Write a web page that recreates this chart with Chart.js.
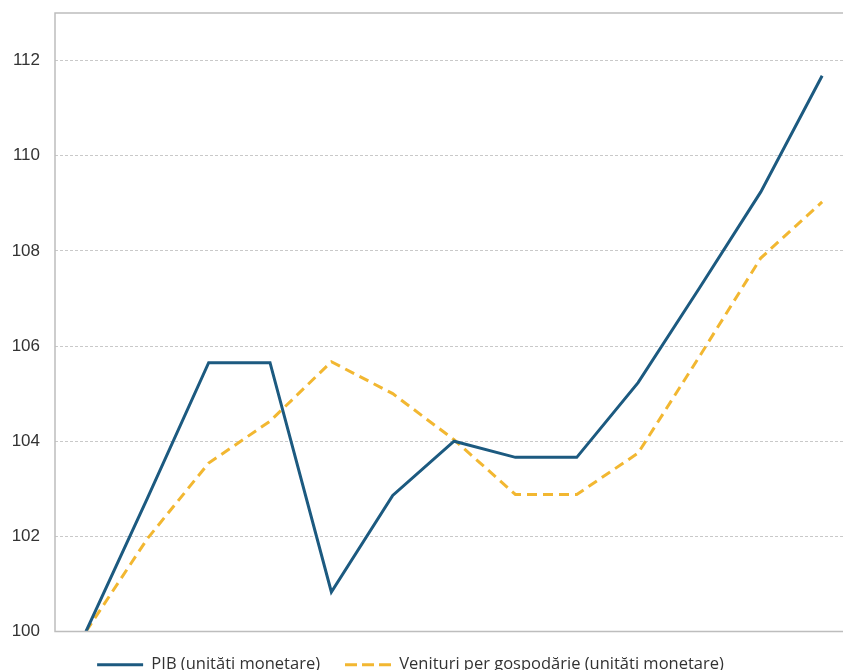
<!DOCTYPE html>
<html>
<head>
<meta charset="utf-8">
<script src="https://cdn.jsdelivr.net/npm/chart.js@4/dist/chart.umd.min.js"></script>
<style>
  html, body { margin: 0; padding: 0; background: #fff; overflow: hidden; }
  #wrap { position: relative; width: 843px; height: 670px; }
  canvas { display: block; }
</style>
</head>
<body>
<div id="wrap"><canvas id="c" width="843" height="670"></canvas></div>
<script>
// Indexed periods (0 = base period)
const periods = [0, 1, 2, 3, 4, 5, 6, 7, 8, 9, 10, 11, 12];
const pibValues = [100, 102.8, 105.65, 105.65, 100.83, 102.86, 104.0, 103.66, 103.66, 105.23, 107.22, 109.24, 111.68];
const venituriValues = [100, 101.95, 103.54, 104.42, 105.67, 105.0, 104.03, 102.88, 102.88, 103.75, 105.78, 107.85, 109.03];
const seriesNames = ['PIB (unități monetare)', 'Venituri per gospodărie (unități monetare)'];
const yTicks = [100, 102, 104, 106, 108, 110, 112];

const BLUE = '#1c5a80';
const YELLOW = '#f2b731';

// Frame around the plot: top, left and bottom edges
const frame = {
  id: 'frame',
  afterDraw(chart) {
    const { ctx, chartArea: a } = chart;
    ctx.save();
    ctx.strokeStyle = '#bdbdbd';
    ctx.lineWidth = 1.5;
    ctx.beginPath();
    ctx.moveTo(a.right + 5, a.top);
    ctx.lineTo(a.left, a.top);
    ctx.lineTo(a.left, a.bottom);
    ctx.lineTo(a.right + 5, a.bottom);
    ctx.stroke();
    ctx.restore();
  }
};

// Nudge the legend row slightly left of centre
const legendShift = {
  id: 'legendShift',
  afterLayout(chart) {
    const lg = chart.legend;
    if (lg) { lg.left -= 11; lg.right -= 11; }
  }
};

// Legend samples drawn as short line segments, dashed where the series is dashed
function legendItems(chart) {
  const items = Chart.defaults.plugins.legend.labels.generateLabels(chart);
  return items.map(item => {
    const ds = chart.data.datasets[item.datasetIndex];
    return Object.assign(item, {
      pointStyle: 'line',
      lineWidth: 3,
      strokeStyle: ds.borderColor,
      fillStyle: ds.borderColor,
      lineDash: ds.borderDash ? [12, 5] : [],
      lineCap: 'butt'
    });
  });
}

new Chart(document.getElementById('c'), {
  type: 'line',
  data: {
    datasets: [
      {
        label: seriesNames[0],
        data: periods.map((p, i) => ({ x: p, y: pibValues[i] })),
        borderColor: BLUE,
        backgroundColor: BLUE,
        borderWidth: 3,
        pointRadius: 0,
        tension: 0,
        fill: false
      },
      {
        label: seriesNames[1],
        data: periods.map((p, i) => ({ x: p, y: venituriValues[i] })),
        borderColor: YELLOW,
        backgroundColor: YELLOW,
        borderWidth: 3,
        borderDash: [10, 6],
        pointRadius: 0,
        tension: 0,
        fill: false
      }
    ]
  },
  options: {
    responsive: false,
    animation: false,
    devicePixelRatio: 1,
    layout: { padding: { top: 13, right: 0, bottom: -13, left: 0 } },
    scales: {
      x: {
        type: 'linear',
        min: -0.505,
        max: 12.34,
        display: false
      },
      y: {
        min: 100,
        max: 113,
        afterFit(scale) { scale.width = 55; scale.paddingTop = 0; },
        afterBuildTicks(scale) { scale.ticks = yTicks.map(v => ({ value: v })); },
        border: { display: false, dash: [3, 2] },
        grid: {
          drawTicks: false,
          color: ctx => (ctx.tick && ctx.tick.value === 100) ? 'rgba(0,0,0,0)' : '#c9c9c9',
          lineWidth: 1
        },
        ticks: {
          autoSkip: false,
          padding: 15,
          color: '#333',
          font: { family: 'Liberation Sans, Arial, sans-serif', size: 17 }
        }
      }
    },
    plugins: {
      legend: {
        position: 'bottom',
        labels: {
          usePointStyle: true,
          pointStyle: 'line',
          pointStyleWidth: 46,
          padding: 25,
          color: '#333',
          font: { family: 'Open Sans, sans-serif', size: 16.5 },
          generateLabels: legendItems
        }
      },
      tooltip: { enabled: false }
    }
  },
  plugins: [frame, legendShift]
});
</script>
</body>
</html>
